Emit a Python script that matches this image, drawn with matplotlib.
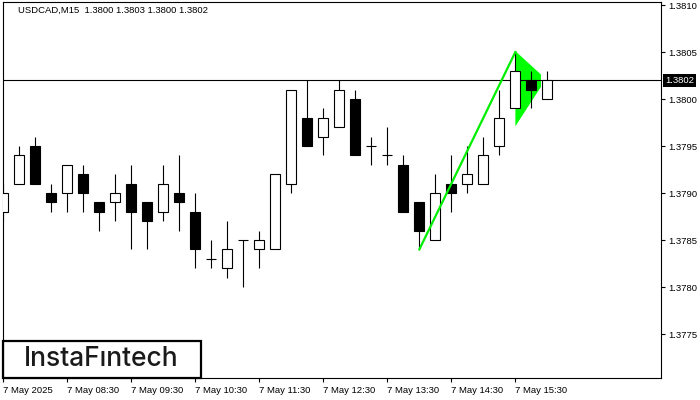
import matplotlib.pyplot as plt
from matplotlib.patches import Rectangle, Polygon
import matplotlib.transforms as mtransforms

plt.rcParams['font.family'] = ['Liberation Sans', 'DejaVu Sans']

# USDCAD M15 candles, 07:30 .. 16:00
opens = [1.3788, 1.3791, 1.3795, 1.3790, 1.3790, 1.3792, 1.3789, 1.3789, 1.3791, 1.3789,
         1.3788, 1.3790, 1.3788, 1.3783, 1.3782, 1.3785, 1.3784, 1.3784, 1.3791, 1.3798,
         1.3796, 1.3797, 1.3800, 1.3795, 1.3794, 1.3793, 1.3789, 1.3785, 1.3791, 1.3791,
         1.3791, 1.3795, 1.3799, 1.3802, 1.3800]
highs = [1.3791, 1.3795, 1.3796, 1.3791, 1.3793, 1.3793, 1.3789, 1.3792, 1.3793, 1.3789,
         1.3793, 1.3794, 1.3790, 1.3785, 1.3787, 1.3785, 1.3786, 1.3792, 1.3801, 1.3802,
         1.3799, 1.3802, 1.3801, 1.3796, 1.3797, 1.3794, 1.3789, 1.3792, 1.3794, 1.3795,
         1.3796, 1.3801, 1.3805, 1.3803, 1.3803]
lows = [1.3787, 1.3791, 1.3791, 1.3788, 1.3788, 1.3788, 1.3786, 1.3787, 1.3784, 1.3784,
        1.3787, 1.3786, 1.3782, 1.3782, 1.3781, 1.3780, 1.3782, 1.3784, 1.3790, 1.3795,
        1.3794, 1.3797, 1.3794, 1.3793, 1.3793, 1.3788, 1.3784, 1.3785, 1.3788, 1.3790,
        1.3791, 1.3794, 1.3799, 1.3799, 1.3800]
closes = [1.3790, 1.3794, 1.3791, 1.3789, 1.3793, 1.3790, 1.3788, 1.3790, 1.3788, 1.3787,
          1.3791, 1.3789, 1.3784, 1.3783, 1.3784, 1.3785, 1.3785, 1.3792, 1.3801, 1.3795,
          1.3798, 1.3801, 1.3794, 1.3795, 1.3794, 1.3788, 1.3786, 1.3790, 1.3790, 1.3792,
          1.3794, 1.3798, 1.3803, 1.3801, 1.3802]

time_ticks = [0, 4, 8, 12, 16, 20, 24, 28, 32]
time_labels = ["7 May 2025", "7 May 08:30", "7 May 09:30", "7 May 10:30", "7 May 11:30",
               "7 May 12:30", "7 May 13:30", "7 May 14:30", "7 May 15:30"]
price_ticks = [1.3775, 1.3780, 1.3785, 1.3790, 1.3795, 1.3800, 1.3805, 1.3810]
last_price = 1.3802

# bullish pennant: flagpole + triangle
pole_x = [26, 32]
pole_y = [1.3784, 1.3805]
pennant_x = [32, 33.6, 33.6, 32]
pennant_y = [1.38051, 1.38026, 1.38013, 1.37971]

fig = plt.figure(figsize=(7, 4), dpi=100)
ax = fig.add_axes([2.5 / 700, 22 / 400, 658.5 / 700, 376 / 400])

x = list(range(len(opens)))
ax.vlines(x, lows, highs, color='black', lw=0.8, zorder=2)
bottoms = [min(o, c) for o, c in zip(opens, closes)]
heights = [abs(c - o) for o, c in zip(opens, closes)]
cols = ['white' if c >= o else 'black' for o, c in zip(opens, closes)]
ax.bar(x, heights, bottom=bottoms, width=0.62, color=cols, edgecolor='black',
       linewidth=0.8, zorder=3)

ax.add_patch(Polygon(list(zip(pennant_x, pennant_y)), closed=True,
                     facecolor='#00ff00', edgecolor='none', zorder=1))
ax.plot(pole_x, pole_y, color='#00ee00', lw=1.6, zorder=5)

ax.axhline(last_price, color='black', lw=0.8, zorder=1.5)

ax.set_xlim(-0.05, 41.1)
ax.set_ylim(1.377032, 1.381032)

ax.yaxis.tick_right()
ax.set_yticks(price_ticks)
ax.set_yticklabels(['%.4f' % p for p in price_ticks])
ax.set_xticks(time_ticks)
ax.set_xticklabels(time_labels, ha='left')
ax.tick_params(axis='both', labelsize=6.8, length=3, width=0.8, pad=2, colors='black')
ax.tick_params(axis='x', pad=3)
for s in ax.spines.values():
    s.set_linewidth(0.8)

trans = mtransforms.blended_transform_factory(ax.transAxes, ax.transData)
ax.text(1.006, last_price, '%.4f' % last_price, transform=trans, ha='left', va='center',
        fontsize=6.8, color='white',
        bbox=dict(boxstyle='square,pad=0.2', facecolor='black', edgecolor='none'))

fig.text(18 / 700, 1 - 10 / 400, "USDCAD,M15  1.3800 1.3803 1.3800 1.3802",
         fontsize=6.8, va='center', ha='left')

# logo box
fig.patches.append(Rectangle((3 / 700, 22 / 400), 198 / 700, 37 / 400,
                             transform=fig.transFigure, fill=False,
                             edgecolor='black', lw=1.6, zorder=10))
fig.text(101 / 700, 1 - 359 / 400, "InstaF\u0131ntech", fontsize=19,
         family=['Inter', 'DejaVu Sans'], fontweight='medium', color='#1a1a1a',
         ha='center', va='center')

fig.savefig('out.png', dpi=100)
